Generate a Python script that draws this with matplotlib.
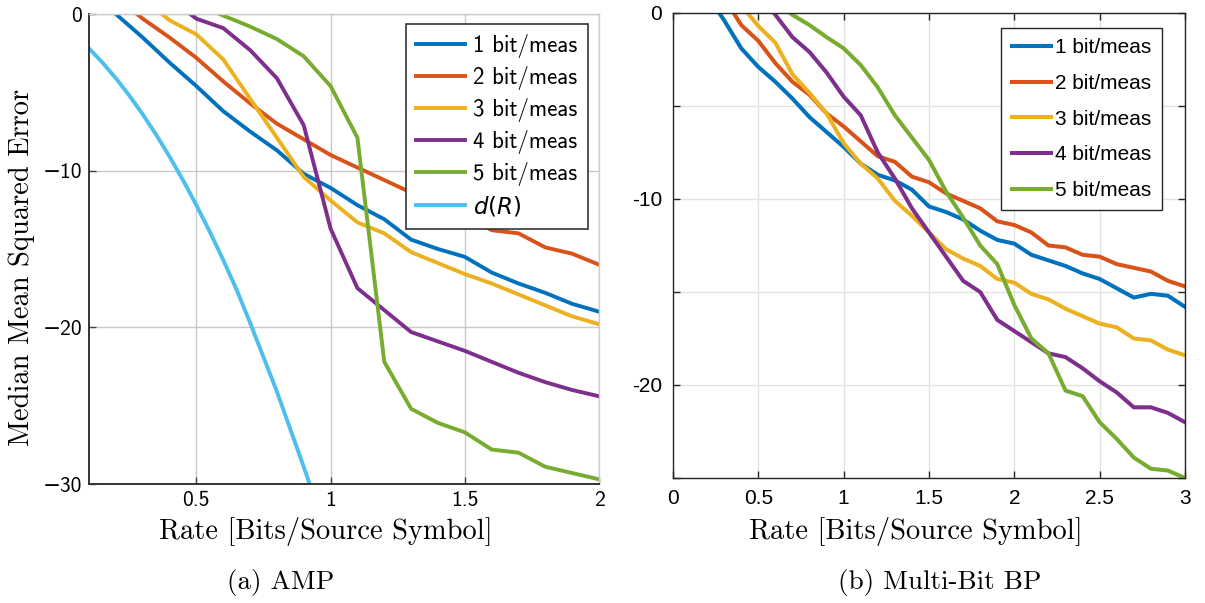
import matplotlib
matplotlib.use('Agg')
import matplotlib.pyplot as plt

# =============================================================================
# DONNEES
# =============================================================================

labels = ['1 bit/meas', '2 bit/meas', '3 bit/meas', '4 bit/meas', '5 bit/meas']
colors = ['#0072BD', '#D95319', '#EDB120', '#7E2F8E', '#77AC30']
color_dr = '#4DBEEE'

# (a) AMP
amp_x1 = [0.2, 0.3, 0.4, 0.5, 0.6, 0.7, 0.8, 0.9, 1.0, 1.1, 1.2, 1.3, 1.4, 1.5, 1.6, 1.7, 1.8, 1.9, 2.0]
amp_y1 = [0, -1.5, -3.1, -4.6, -6.2, -7.5, -8.7, -10.2, -11.1, -12.2, -13.1, -14.4, -15.0, -15.5, -16.5, -17.2, -17.8, -18.5, -19.0]
amp_x2 = [0.2, 0.3, 0.4, 0.5, 0.6, 0.7, 0.8, 0.9, 1.0, 1.1, 1.2, 1.3, 1.4, 1.5, 1.6, 1.7, 1.8, 1.9, 2.0]
amp_y2 = [1.1, -0.3, -1.5, -2.8, -4.3, -5.7, -7.0, -8.0, -9.0, -9.8, -10.6, -11.4, -12.1, -12.8, -13.8, -14.0, -14.9, -15.3, -16.0]
amp_x3 = [0.3, 0.4, 0.5, 0.6, 0.7, 0.8, 0.9, 1.0, 1.1, 1.2, 1.3, 1.4, 1.5, 1.6, 1.7, 1.8, 1.9, 2.0]
amp_y3 = [1.0, -0.4, -1.3, -2.9, -5.4, -7.9, -10.4, -11.9, -13.3, -14.0, -15.2, -15.9, -16.6, -17.2, -17.9, -18.6, -19.3, -19.8]
amp_x4 = [0.4, 0.5, 0.6, 0.7, 0.8, 0.9, 1.0, 1.1, 1.2, 1.3, 1.4, 1.5, 1.6, 1.7, 1.8, 1.9, 2.0]
amp_y4 = [1.0, -0.3, -0.9, -2.3, -4.1, -7.1, -13.7, -17.5, -18.9, -20.3, -20.9, -21.5, -22.2, -22.9, -23.5, -24.0, -24.4]
amp_x5 = [0.5, 0.6, 0.7, 0.8, 0.9, 1.0, 1.1, 1.2, 1.3, 1.4, 1.5, 1.6, 1.7, 1.8, 1.9, 2.0]
amp_y5 = [0.6, -0.1, -0.8, -1.6, -2.7, -4.6, -7.9, -22.2, -25.2, -26.1, -26.7, -27.8, -28.0, -28.9, -29.3, -29.7]
# d(R) : courbe lisse, lue tous les 0.05
dr_x = [0.1, 0.15, 0.2, 0.25, 0.3, 0.35, 0.4, 0.45, 0.5, 0.55, 0.6, 0.65, 0.7, 0.75, 0.8, 0.85, 0.9, 0.95, 1.0]
dr_y = [-2.2, -3.1, -4.1, -5.2, -6.4, -7.7, -9.1, -10.6, -12.2, -13.9, -15.7, -17.6, -19.7, -21.9, -24.1,
        -26.5, -28.9, -31.4, -34.0]

# (b) Multi-Bit BP
bp_x1 = [0.2, 0.3, 0.4, 0.5, 0.6, 0.7, 0.8, 0.9, 1.0, 1.1, 1.2, 1.3, 1.4, 1.5, 1.6, 1.7, 1.8, 1.9, 2.0,
         2.1, 2.2, 2.3, 2.4, 2.5, 2.6, 2.7, 2.8, 2.9, 3.0]
bp_y1 = [1.0, -0.4, -1.9, -2.9, -3.7, -4.6, -5.6, -6.4, -7.2, -8.1, -8.7, -9.0, -9.5, -10.4, -10.7, -11.1, -11.7,
         -12.2, -12.4, -13.0, -13.3, -13.6, -14.0, -14.3, -14.8, -15.3, -15.1, -15.2, -15.8]
bp_x2 = [0.3, 0.4, 0.5, 0.6, 0.7, 0.8, 0.9, 1.0, 1.1, 1.2, 1.3, 1.4, 1.5, 1.6, 1.7, 1.8, 1.9, 2.0,
         2.1, 2.2, 2.3, 2.4, 2.5, 2.6, 2.7, 2.8, 2.9, 3.0]
bp_y2 = [0.8, -0.65, -1.5, -2.7, -3.7, -4.4, -5.4, -6.1, -6.9, -7.7, -8.0, -8.8, -9.1, -9.7, -10.1, -10.5,
         -11.2, -11.4, -11.8, -12.5, -12.6, -13.0, -13.1, -13.5, -13.7, -13.9, -14.4, -14.7]
bp_x3 = [0.4, 0.5, 0.6, 0.7, 0.8, 0.9, 1.0, 1.1, 1.2, 1.3, 1.4, 1.5, 1.6, 1.7, 1.8, 1.9, 2.0,
         2.1, 2.2, 2.3, 2.4, 2.5, 2.6, 2.7, 2.8, 2.9, 3.0]
bp_y3 = [0.4, -0.7, -1.6, -3.3, -4.3, -5.4, -7.0, -8.1, -8.9, -10.1, -10.9, -11.8, -12.7, -13.2, -13.6,
         -14.3, -14.5, -15.1, -15.4, -15.9, -16.3, -16.7, -16.9, -17.5, -17.6, -18.1, -18.4]
bp_x4 = [0.5, 0.6, 0.7, 0.8, 0.9, 1.0, 1.1, 1.2, 1.3, 1.4, 1.5, 1.6, 1.7, 1.8, 1.9, 2.0,
         2.1, 2.2, 2.3, 2.4, 2.5, 2.6, 2.7, 2.8, 2.9, 3.0]
bp_y4 = [1.2, -0.1, -1.3, -2.1, -3.2, -4.5, -5.5, -7.5, -8.9, -10.5, -11.8, -13.1, -14.4, -15.0, -16.5,
         -17.1, -17.7, -18.3, -18.5, -19.1, -19.8, -20.4, -21.2, -21.2, -21.5, -22.0]
bp_x5 = [0.6, 0.7, 0.8, 0.9, 1.0, 1.1, 1.2, 1.3, 1.4, 1.5, 1.6, 1.7, 1.8, 1.9, 2.0,
         2.1, 2.2, 2.3, 2.4, 2.5, 2.6, 2.7, 2.8, 2.9, 3.0]
bp_y5 = [0.6, -0.1, -0.65, -1.3, -1.9, -2.8, -4.0, -5.5, -6.7, -7.9, -9.6, -11.0, -12.5, -13.5, -15.7,
         -17.5, -18.3, -20.3, -20.6, -22.0, -22.9, -23.9, -24.5, -24.6, -25.0]

amp_xs = [amp_x1, amp_x2, amp_x3, amp_x4, amp_x5]
amp_ys = [amp_y1, amp_y2, amp_y3, amp_y4, amp_y5]
bp_xs = [bp_x1, bp_x2, bp_x3, bp_x4, bp_x5]
bp_ys = [bp_y1, bp_y2, bp_y3, bp_y4, bp_y5]

# polices
CM_SERIF = ['cmr10', 'DejaVu Serif']
CM_SANS = ['cmss10', 'DejaVu Sans']
HELV = ['Liberation Sans', 'DejaVu Sans']
plt.rcParams['mathtext.fontset'] = 'dejavusans'

fig = plt.figure(figsize=(12.05, 6.03), dpi=100)

# =============================================================================
# (a) AMP
# =============================================================================
ax1 = fig.add_axes([89 / 1205, 1 - 484 / 603, 510 / 1205, 470 / 603])
for x, y, c, lab in zip(amp_xs, amp_ys, colors, labels):
    ax1.plot(x, y, color=c, linewidth=2.8, label=lab)
ax1.plot(dr_x, dr_y, color=color_dr, linewidth=2.8, label='$d(R)$')

ax1.set_xlim(0.1, 2)
ax1.set_ylim(-30, 0)
ax1.set_xticks([0.5, 1, 1.5, 2])
ax1.set_xticklabels(['0.5', '1', '1.5', '2'], family=CM_SANS, fontsize=15.5)
ax1.set_yticks([0, -10, -20, -30])
ax1.set_yticklabels(['0', '\u221210', '\u221220', '\u221230'], family=CM_SANS, fontsize=15.5)
ax1.grid(True, color='#c8c8c8', linewidth=1.0)
ax1.set_axisbelow(True)
ax1.tick_params(direction='in', length=5, width=1.0, color='#444444', pad=5)
for s in ['left', 'bottom']:
    ax1.spines[s].set_color('#333333')
    ax1.spines[s].set_linewidth(1.4)
for s in ['top', 'right']:
    ax1.spines[s].set_color('#cccccc')
    ax1.spines[s].set_linewidth(1.0)

leg1 = ax1.legend(loc='upper right', bbox_to_anchor=(0.978, 0.979), borderaxespad=0,
                  fancybox=False, framealpha=1, edgecolor='#333333',
                  prop={'family': CM_SANS, 'size': 16.5}, handlelength=2.15,
                  handletextpad=0.35, labelspacing=0.35, borderpad=0.45)
leg1.get_frame().set_linewidth(1.2)

fig.text(22 / 1205, 1 - 267 / 603, 'Median Mean Squared Error', rotation=90,
         ha='center', va='center', family=CM_SERIF, fontsize=20.5)
fig.text(326 / 1205, 1 - 531 / 603, 'Rate [Bits/Source Symbol]',
         ha='center', va='center', family=CM_SERIF, fontsize=20.5)
fig.text(281 / 1205, 1 - 582 / 603, '(a) AMP',
         ha='center', va='center', family=CM_SERIF, fontsize=19.5)

# =============================================================================
# (b) Multi-Bit BP
# =============================================================================
ax2 = fig.add_axes([673 / 1205, 1 - 478 / 603, 512 / 1205, 465 / 603])
for x, y, c, lab in zip(bp_xs, bp_ys, colors, labels):
    ax2.plot(x, y, color=c, linewidth=2.9, label=lab)

ax2.set_xlim(0, 3)
ax2.set_ylim(-25, 0)
ax2.set_xticks([0, 0.5, 1, 1.5, 2, 2.5, 3])
ax2.set_xticklabels(['0', '0.5', '1', '1.5', '2', '2.5', '3'], family=HELV, fontsize=15)
ax2.set_yticks([0, -5, -10, -15, -20, -25])
ax2.set_yticklabels(['0', '', '-10', '', '-20', ''], family=HELV, fontsize=15)
ax2.grid(True, color='#e3e3e3', linewidth=1.0)
ax2.set_axisbelow(True)
ax2.tick_params(direction='in', length=5, width=1.0, color='#262626', pad=8,
                top=True, right=True)
for s in ax2.spines.values():
    s.set_color('#262626')
    s.set_linewidth(1.0)

leg2 = ax2.legend(loc='upper right', bbox_to_anchor=(0.955, 0.968), borderaxespad=0,
                  fancybox=False, framealpha=1, edgecolor='#262626',
                  prop={'family': HELV, 'size': 15}, handlelength=1.9,
                  handletextpad=0.2, labelspacing=0.8, borderpad=0.5)
leg2.get_frame().set_linewidth(1.0)

fig.text(916 / 1205, 1 - 531 / 603, 'Rate [Bits/Source Symbol]',
         ha='center', va='center', family=CM_SERIF, fontsize=20.5)
fig.text(940 / 1205, 1 - 582 / 603, '(b) Multi-Bit BP',
         ha='center', va='center', family=CM_SERIF, fontsize=19.5)

plt.savefig('out.png', dpi=100)
plt.close()
